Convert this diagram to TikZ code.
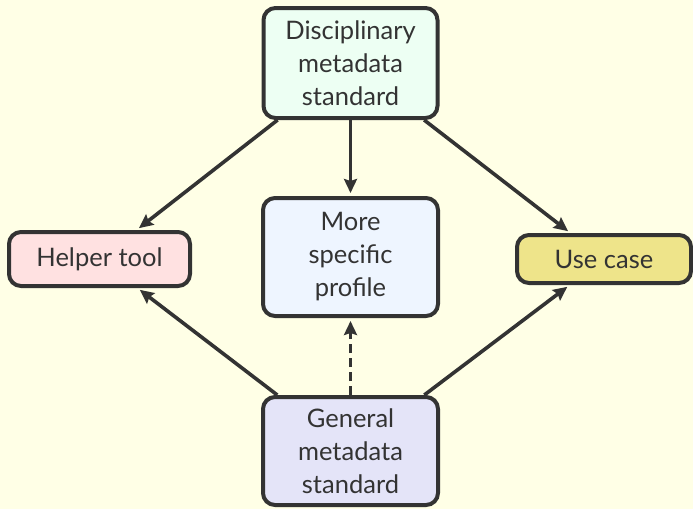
\documentclass[tikz,border=0pt]{standalone}
\usepackage{fontspec}
\setmainfont{Lato}
\usetikzlibrary{arrows.meta}
\definecolor{bg}{HTML}{FFFFE6}
\definecolor{ink}{HTML}{333333}
\definecolor{fTop}{HTML}{EDFFF3}
\definecolor{fHelp}{HTML}{FFE1E1}
\definecolor{fUse}{HTML}{EEE48A}
\definecolor{fMore}{HTML}{EEF5FF}
\definecolor{fGen}{HTML}{E4E4F8}
\begin{document}
\begin{tikzpicture}[x=1pt,y=-1pt,
  box/.style={draw=ink,line width=4pt,rounded corners=12pt,align=center,
    font=\fontsize{25.5}{33}\selectfont,text=ink,inner sep=0pt},
  conn/.style={draw=ink,line width=3.6pt,-{Stealth[length=14pt,width=13pt,inset=2pt]},shorten >=3pt},
  dashconn/.style={conn,dash pattern=on 9pt off 5pt}]
\fill[bg] (0,0) rectangle (693,509);
\useasboundingbox (0,0) rectangle (693,509);
\node[box,fill=fTop,minimum width=174pt,minimum height=110pt] (top) at (350.5,63) {Disciplinary\\metadata\\standard};
\node[box,fill=fHelp,minimum width=181pt,minimum height=54pt] (helper) at (99.5,259) {Helper tool};
\node[box,fill=fUse,minimum width=174pt,minimum height=48pt] (use) at (604,259) {Use case};
\node[box,fill=fMore,minimum width=175pt,minimum height=118pt] (more) at (350.5,257) {More\\specific\\profile};
\node[box,fill=fGen,minimum width=175pt,minimum height=108pt] (gen) at (350.5,451) {General\\metadata\\standard};
\draw[conn] (top) -- (helper);
\draw[conn] (top) -- (more);
\draw[conn] (top) -- (use);
\draw[conn] (gen) -- (helper);
\draw[conn] (gen) -- (use);
\draw[dashconn] (gen) -- (more);
\end{tikzpicture}
\end{document}
